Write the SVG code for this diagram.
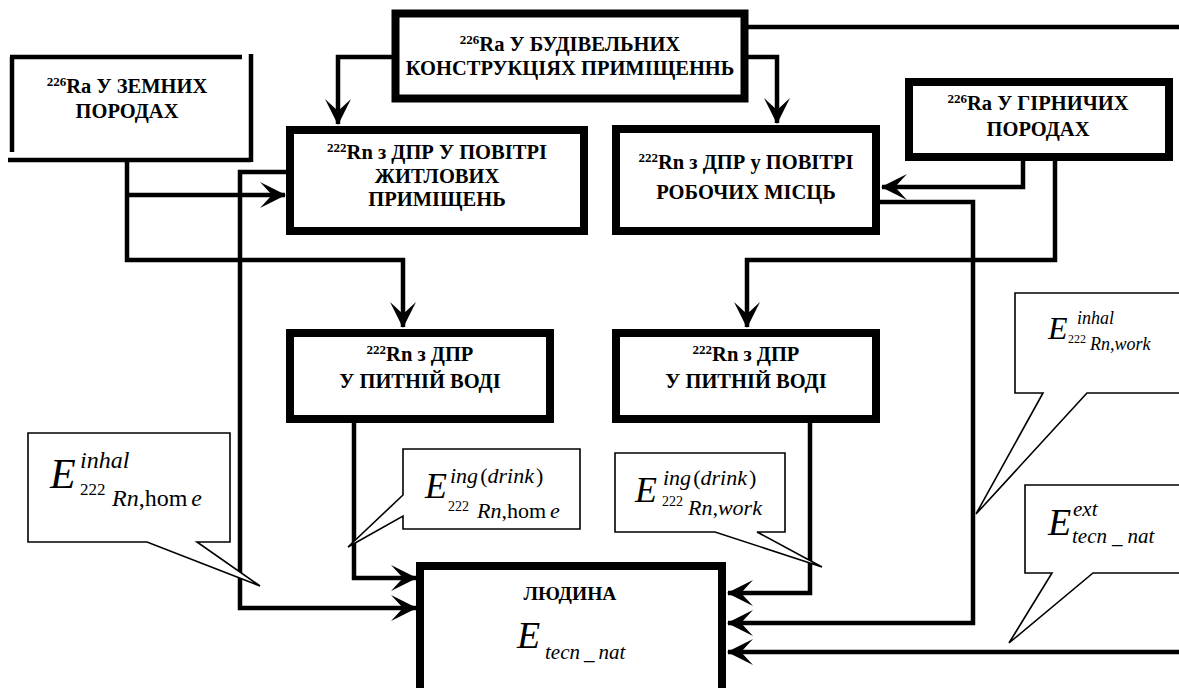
<svg xmlns="http://www.w3.org/2000/svg" width="1179" height="688" viewBox="0 0 1179 688" font-family="'Liberation Serif', 'DejaVu Serif', serif">
<style>
.box{fill:#fff;stroke:#000;stroke-width:8}
.thin{fill:#fff;stroke:#000;stroke-width:1.6;stroke-linejoin:miter}
.lbl{font-weight:bold;font-size:20.5px;text-anchor:middle;fill:#000}
.sup{font-size:13px}
.conn{fill:none;stroke:#000;stroke-width:4.5;stroke-linejoin:miter}
.m{fill:#000}
.i{font-style:italic}
</style>
<defs>
<marker id="ah" viewBox="-27 -15 29 30" markerWidth="29" markerHeight="30" refX="0" refY="0" orient="auto" markerUnits="userSpaceOnUse">
<path d="M1,0 L-25,-13 L-13,0 L-25,13 Z" fill="#000"/>
</marker>
</defs>
<rect width="1179" height="688" fill="#fff"/>

<g id="connectors">
<path class="conn" d="M393,57 H338 V124" marker-end="url(#ah)"/>
<path class="conn" d="M748,57 H777 V123" marker-end="url(#ah)"/>
<path class="conn" d="M748,27 H1200 V652 H728" marker-end="url(#ah)"/>
<path class="conn" d="M127,162 V260 H403 V327" marker-end="url(#ah)"/>
<path class="conn" d="M127,195 H285" marker-end="url(#ah)"/>
<path class="conn" d="M286,172 H240 V608 H416" marker-end="url(#ah)"/>
<path class="conn" d="M354,423 V578 H416" marker-end="url(#ah)"/>
<path class="conn" d="M1023,160 V187 H882" marker-end="url(#ah)"/>
<path class="conn" d="M1055,160 V260 H747 V327" marker-end="url(#ah)"/>
<path class="conn" d="M880,202 H973 V623 H728" marker-end="url(#ah)"/>
<path class="conn" d="M810,423 V593 H728" marker-end="url(#ah)"/>
</g>

<g id="ra-zemni">
<g fill="none" stroke="#000" stroke-width="4.5">
<line x1="10" y1="57" x2="242" y2="57"/>
<line x1="251" y1="54" x2="251" y2="162"/>
<line x1="12" y1="57" x2="12" y2="152"/>
<line x1="8" y1="160" x2="251" y2="160"/>
</g>
<text class="lbl" x="127" y="93"><tspan class="sup" dy="-7">226</tspan><tspan dy="7">Ra У ЗЕМНИХ</tspan></text>
<text class="lbl" x="127" y="118">ПОРОДАХ</text>
</g>

<g id="ra-budivelni">
<rect class="box" x="395.5" y="13.5" width="349" height="85" stroke-width="7"/>
<text class="lbl" x="570" y="51"><tspan class="sup" dy="-7">226</tspan><tspan dy="7">Ra У БУДІВЕЛЬНИХ</tspan></text>
<text class="lbl" x="570" y="75">КОНСТРУКЦІЯХ ПРИМІЩЕННЬ</text>
</g>

<g id="ra-girnychi">
<rect class="box" x="909" y="82" width="260" height="75" stroke-width="6"/>
<text class="lbl" x="1038" y="110"><tspan class="sup" dy="-7">226</tspan><tspan dy="7">Ra У ГІРНИЧИХ</tspan></text>
<text class="lbl" x="1038" y="136">ПОРОДАХ</text>
</g>

<g id="rn-zhytlovi">
<rect class="box" x="290" y="130" width="294" height="101"/>
<text class="lbl" x="437" y="159"><tspan class="sup" dy="-7">222</tspan><tspan dy="7">Rn з ДПР У ПОВІТРІ</tspan></text>
<text class="lbl" x="437" y="183">ЖИТЛОВИХ</text>
<text class="lbl" x="437" y="206">ПРИМІЩЕНЬ</text>
</g>

<g id="rn-robochi">
<rect class="box" x="616" y="129" width="260" height="102"/>
<text class="lbl" x="746" y="169"><tspan class="sup" dy="-7">222</tspan><tspan dy="7">Rn з ДПР у ПОВІТРІ</tspan></text>
<text class="lbl" x="746" y="199">РОБОЧИХ МІСЦЬ</text>
</g>

<g id="rn-voda-home">
<rect class="box" x="290" y="333" width="260" height="86"/>
<text class="lbl" x="420" y="361"><tspan class="sup" dy="-7">222</tspan><tspan dy="7">Rn з ДПР</tspan></text>
<text class="lbl" x="420" y="388">У ПИТНІЙ ВОДІ</text>
</g>

<g id="rn-voda-work">
<rect class="box" x="616" y="333" width="260" height="86"/>
<text class="lbl" x="746" y="361"><tspan class="sup" dy="-7">222</tspan><tspan dy="7">Rn з ДПР</tspan></text>
<text class="lbl" x="746" y="388">У ПИТНІЙ ВОДІ</text>
</g>

<g id="lyudyna">
<rect class="box" x="420" y="566" width="302" height="150" stroke-width="7"/>
<text class="lbl" x="570" y="600" style="font-size:19.5px">ЛЮДИНА</text>
<text class="m i" x="517" y="648" font-size="38">E</text>
<text class="m i" x="545" y="659" font-size="21">tecn<tspan dx="4">_</tspan><tspan dx="4">nat</tspan></text>
</g>

<g id="callout-inhal-home">
<polygon class="thin" points="28,433 230,433 230,542 197,542 260,586 147,542 28,542"/>
<text class="m i" x="50" y="488" font-size="42">E</text>
<text class="m i" x="80" y="468" font-size="24">inhal</text>
<text class="m" x="80" y="495" font-size="17">222</text>
<text class="m" x="112" y="506" font-size="24"><tspan class="i">Rn</tspan>,hom<tspan class="i" dx="4">e</tspan></text>
</g>

<g id="callout-ing-home">
<polygon class="thin" points="403,449 580,449 580,529 403,529 403,516 348,547 403,495"/>
<text class="m i" x="425" y="498" font-size="36">E</text>
<text class="m" x="450" y="483" font-size="22"><tspan class="i">ing</tspan><tspan dx="2">(</tspan><tspan class="i">drink</tspan><tspan dx="2">)</tspan></text>
<text class="m" x="448" y="511" font-size="14">222</text>
<text class="m" x="477" y="518" font-size="22"><tspan class="i">Rn</tspan>,hom<tspan class="i" dx="4">e</tspan></text>
</g>

<g id="callout-ing-work">
<polygon class="thin" points="615,453 785,453 785,532 757,532 822,567 715,532 615,532"/>
<text class="m i" x="635" y="502" font-size="36">E</text>
<text class="m" x="663" y="485" font-size="22"><tspan class="i">ing</tspan><tspan dx="2">(</tspan><tspan class="i">drink</tspan><tspan dx="2">)</tspan></text>
<text class="m" x="662" y="506" font-size="14">222</text>
<text class="m i" x="688" y="515" font-size="22">Rn,work</text>
</g>

<g id="callout-inhal-work">
<polygon class="thin" points="1015,293 1190,293 1190,393 1087,393 976,514 1043,393 1015,393"/>
<text class="m i" x="1048" y="339" font-size="32">E</text>
<text class="m i" x="1077" y="324" font-size="18">inhal</text>
<text class="m" x="1068" y="343" font-size="12">222</text>
<text class="m i" x="1090" y="350" font-size="18">Rn,work</text>
</g>

<g id="callout-ext">
<polygon class="thin" points="1025,485 1190,485 1190,573 1093,573 1009,643 1052,573 1025,573"/>
<text class="m i" x="1048" y="535" font-size="38">E</text>
<text class="m i" x="1073" y="516" font-size="21">ext</text>
<text class="m i" x="1072" y="543" font-size="21">tecn<tspan dx="5">_</tspan><tspan dx="5">nat</tspan></text>
</g>
</svg>
